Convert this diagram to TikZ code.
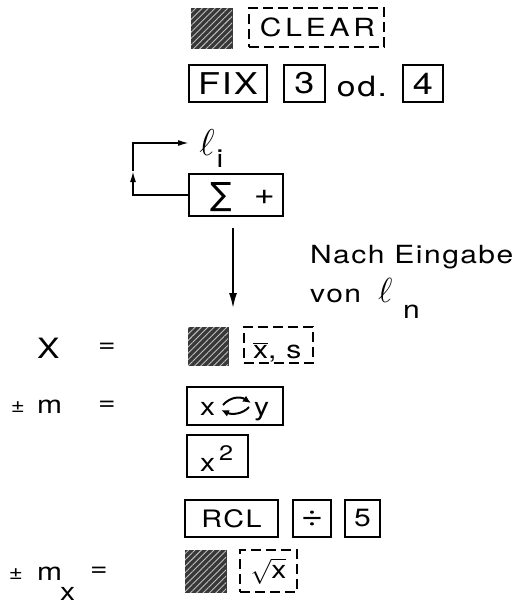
\documentclass[tikz,border=0pt]{standalone}
\usepackage{fontspec}
\setmainfont{TeX Gyre Heros}[FakeStretch=1.2,LetterSpace=6]
\newfontfamily\djv{DejaVu Sans}
\usetikzlibrary{arrows.meta,patterns.meta}
\begin{document}
\begin{tikzpicture}[x=1pt,y=-1pt,
  every node/.style={inner sep=0pt,font=\fontsize{25}{30}\selectfont},
  key/.style={draw,line width=1.9pt,rectangle},
  dkey/.style={key,dash pattern=on 10pt off 5pt},
  hatchbox/.style={fill=black!78,draw=black!78,line width=0.8pt,
    postaction={pattern={Lines[angle=45,distance=4.5pt,line width=0.9pt]},pattern color=white!75!black}},
  big/.style={font=\fontsize{30}{30}\selectfont},
  conn/.style={line width=1.7pt}]
\useasboundingbox (0,0) rectangle (530,605);
% row 1
\node[hatchbox,minimum width=41pt,minimum height=40pt] (h1) at (211.5,28) {};
\node[dkey,minimum width=135pt,minimum height=39pt] (clear) at (316.5,27.5) {\addfontfeature{LetterSpace=15}\hspace{2pt}CLEAR};
% row 2
\node[key,big,minimum width=78pt,minimum height=37pt] (fix) at (228,83.5) {FIX};
\node[key,big,minimum width=41pt,minimum height=37pt] (three) at (304.5,83.5) {3};
\node[anchor=base,font=\fontsize{28}{30}\selectfont] (od) at (362,96) {od.};
\node[key,big,minimum width=40pt,minimum height=37pt] (four) at (423,83.5) {4};
% sigma loop
\node[key,minimum width=94pt,minimum height=42pt] (sbox) at (236,195) {};
\node[font=\djv\fontsize{32}{32}\selectfont] (sig) at (221,197) {∑};
\node[font=\fontsize{30}{30}\selectfont] (plus) at (264.5,197) {+};
\node (ell) at (207,143) {\scalebox{1.5}{$\ell$}};
\node (isub) at (220,159) {i};
\coordinate (lmid) at (133,171);
\coordinate (lend) at (189,143);
\draw[conn,-{Latex[length=11pt,width=6pt]}] (sbox.west) -| (lmid);
\draw[conn,-{Latex[length=11pt,width=6pt]}] (lmid) |- (lend);
\coordinate (dtop) at (233,228);
\coordinate (dbot) at (233,308);
\draw[conn,-{Latex[length=15pt,width=8pt]}] (dtop) -- (dbot);
% side note
\node[anchor=base west] (nach) at (310,263) {Nach Eingabe};
\node[anchor=base west] (von) at (310,302) {von};
\node[anchor=base west] (elln) at (378,302) {\scalebox{1.4}{$\ell$}};
\node[anchor=base west] (nsub) at (403,318) {n};
% X =
\node[anchor=base west,font=\fontsize{28}{30}\selectfont] (X) at (37,358) {X};
\node (eq1) at (107,348) {=};
\node[hatchbox,minimum width=40pt,minimum height=38pt] (h2) at (208,346) {};
\node[dkey,minimum width=69pt,minimum height=36pt] (xs) at (278.5,345) {};
\node[anchor=base west] (xstext) at (253,358) {$\overline{\mbox{x}}$, s};
% +- m =
\node (pmA) at (18,407) {\fontsize{20}{22}\selectfont ±};
\node[anchor=base west] (mA) at (37,413) {m};
\node (eq2) at (107,406) {=};
\node[key,minimum width=96pt,minimum height=38pt] (xy) at (235,406) {};
\node[anchor=base west] (xl) at (200,415) {x};
\node[anchor=base west] (yl) at (254,415) {y};
\draw[line width=2pt,-{Latex[length=8pt,width=7pt]}] (223,405) .. controls (230,397) and (240,396) .. (251,403);
\draw[line width=2pt,-{Latex[length=8pt,width=7pt]}] (249,407) .. controls (243,414) and (232,415) .. (221,410);
% x^2
\node[key,minimum width=61pt,minimum height=42pt] (x2) at (217.5,456) {};
\node[anchor=base west] (x2x) at (200,471) {x};
\node[anchor=base west,font=\fontsize{21}{24}\selectfont] (x2s) at (219,460) {2};
% RCL / 5
\node[key,font=\fontsize{24}{30}\selectfont,minimum width=93pt,minimum height=37pt] (rcl) at (231.5,518.5) {RCL};
\node[key,font=\fontsize{32}{32}\selectfont,minimum width=38pt,minimum height=37pt] (div) at (312,518.5) {÷};
\node[key,minimum width=35pt,minimum height=37pt] (five) at (362.5,518.5) {5};
% +- m_x =
\node (pmB) at (16,574) {\fontsize{20}{22}\selectfont ±};
\node[anchor=base west] (mB) at (37,580) {m};
\node[anchor=base west] (xsub) at (60,600) {x};
\node (eq3) at (99,572) {=};
\node[hatchbox,minimum width=41pt,minimum height=42pt] (h3) at (205.5,571) {};
\node[dkey,minimum width=57pt,minimum height=42pt] (sq) at (268.5,571) {$\sqrt{\mbox{x}}$};
\end{tikzpicture}
\end{document}
